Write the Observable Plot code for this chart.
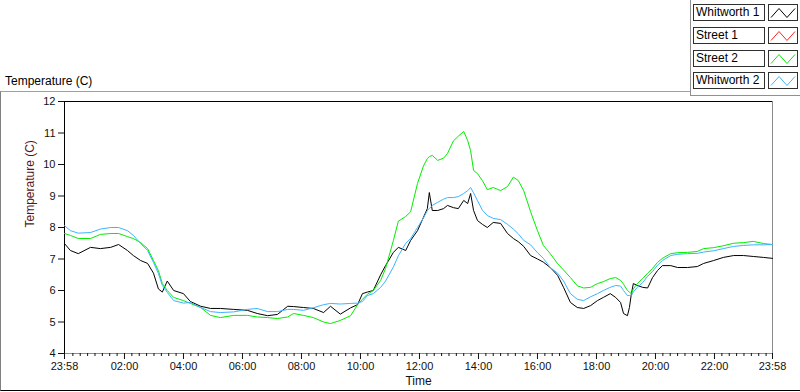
<!DOCTYPE html>
<html>
<head>
<meta charset="utf-8">
<script src="https://cdn.jsdelivr.net/npm/d3@7"></script>
<script src="https://cdn.jsdelivr.net/npm/@observablehq/plot@0.6"></script>
<style>
  html, body { margin: 0; padding: 0; background: #fff; }
  #wrap { position: relative; width: 800px; height: 392px; overflow: hidden; font-family: "Liberation Sans", Arial, sans-serif; }
  #title { position: absolute; left: 5px; top: 74px; font-size: 12px; color: #000; }
  #frame { position: absolute; left: 0; top: 91px; width: 800px; height: 300px; box-sizing: border-box;
           border-top: 1px solid #a0a0a0; border-left: 1px solid #808080; border-bottom: 1px solid #000; pointer-events: none; z-index: 3; }
  #chart { position: absolute; left: 0; top: 93px; z-index: 2; }
  #legend { position: absolute; left: 690px; top: 0; width: 110px; height: 96px; box-sizing: border-box; background: #fff;
            border-left: 1px solid #909090; border-bottom: 1px solid #909090; z-index: 4; }
  .lname { position: absolute; left: 2px; width: 72px; height: 17px; box-sizing: border-box; border: 1px solid #303030;
           font-size: 12px; line-height: 15px; padding-left: 2px; color: #000; white-space: nowrap; }
  .licon { position: absolute; left: 77px; width: 30px; height: 17px; box-sizing: border-box; border: 1px solid #303030; }
  .licon svg { display: block; }
</style>
</head>
<body>
<div id="wrap">
  <div id="title">Temperature (C)</div>
  <div id="legend"></div>
  <div id="chart"></div>
  <div id="frame"></div>
</div>
<script>
// ---- data ----
const seriesNames = ["Whitworth 1", "Street 1", "Street 2", "Whitworth 2"];
const seriesColors = ["#000000", "#ff2020", "#00ee00", "#3cb4ff"];

const times = [
  "23:58","00:10","00:26","00:51","01:11","01:32","01:48","02:06","02:18","02:33",
  "02:47","02:59","03:09","03:17","03:27","03:40","04:00","04:14","04:35","04:55",
  "05:15","05:42","06:10","06:30","06:51","07:11","07:32","07:44","08:04","08:24",
  "08:45","08:59","09:19","09:40","09:54","10:04","10:14","10:26","10:41","10:51",
  "11:07","11:17","11:32","11:42","11:56","12:08","12:16","12:20","12:26","12:37",
  "12:49","12:57","13:09","13:19","13:30","13:38","13:44","13:50","13:58","14:08",
  "14:18","14:30","14:45","14:59","15:11","15:21","15:32","15:46","16:00","16:12",
  "16:26","16:41","16:53","17:07","17:21","17:34","17:48","18:02","18:14","18:28",
  "18:39","18:49","18:55","19:03","19:07","19:11","19:15","19:23","19:34","19:44",
  "19:54","20:04","20:14","20:31","20:45","21:05","21:25","21:38","21:58","22:18",
  "22:39","22:59","23:19","23:40","23:58"
];

const whitworth1 = [
  7.49,7.27,7.17,7.37,7.33,7.37,7.46,7.27,7.11,6.95,
  6.86,6.55,6.05,5.95,6.30,6.00,5.90,5.65,5.50,5.43,
  5.43,5.40,5.37,5.27,5.20,5.24,5.50,5.49,5.46,5.43,
  5.30,5.50,5.25,5.45,5.55,5.90,5.95,6.00,6.50,6.79,
  7.21,7.37,7.27,7.59,7.90,8.32,8.60,9.11,8.54,8.54,
  8.60,8.70,8.63,8.60,8.86,8.76,9.08,8.54,8.22,8.10,
  8.00,8.16,8.13,7.81,7.65,7.55,7.40,7.11,7.00,6.90,
  6.73,6.48,6.10,5.62,5.46,5.43,5.52,5.68,5.78,5.90,
  5.78,5.62,5.27,5.20,5.46,5.90,6.22,6.16,6.10,6.08,
  6.41,6.63,6.79,6.79,6.73,6.73,6.76,6.86,6.95,7.05,
  7.11,7.11,7.08,7.05,7.02
];

const street1 = []; // listed in the legend, no visible trace

const street2 = [
  7.81,7.75,7.65,7.65,7.78,7.81,7.81,7.71,7.65,7.52,
  7.33,6.95,6.63,6.22,6.00,5.78,5.68,5.59,5.46,5.21,
  5.14,5.21,5.21,5.16,5.14,5.11,5.16,5.27,5.21,5.14,
  5.00,4.95,5.05,5.20,5.55,5.72,5.88,6.00,6.32,6.70,
  7.59,8.20,8.35,8.50,9.40,9.95,10.19,10.25,10.29,10.13,
  10.20,10.35,10.75,10.90,11.05,10.76,10.44,9.81,9.71,9.49,
  9.20,9.27,9.17,9.30,9.60,9.49,9.17,8.50,7.90,7.43,
  7.17,6.85,6.65,6.41,6.15,6.08,6.10,6.22,6.28,6.38,
  6.41,6.32,6.20,6.00,5.95,5.90,6.05,6.22,6.38,6.55,
  6.70,6.89,7.02,7.17,7.20,7.21,7.24,7.33,7.36,7.42,
  7.50,7.52,7.56,7.49,7.46
];

const whitworth2 = [
  8.06,7.90,7.82,7.84,7.95,8.00,8.00,7.90,7.75,7.49,
  7.27,6.89,6.54,6.16,5.94,5.68,5.60,5.62,5.46,5.33,
  5.30,5.32,5.40,5.43,5.33,5.33,5.40,5.40,5.37,5.45,
  5.55,5.59,5.57,5.59,5.60,5.65,5.84,5.90,6.10,6.30,
  6.75,7.10,7.50,7.65,8.00,8.30,8.54,8.60,8.70,8.80,
  8.90,8.95,8.95,8.98,9.08,9.17,9.27,9.10,8.85,8.55,
  8.38,8.29,8.25,8.10,7.95,7.80,7.59,7.45,7.20,7.02,
  6.73,6.55,6.30,5.90,5.72,5.68,5.80,5.90,6.00,6.10,
  6.16,6.14,6.00,5.84,5.84,5.84,5.95,6.10,6.25,6.45,
  6.60,6.80,6.95,7.11,7.15,7.17,7.18,7.22,7.26,7.33,
  7.40,7.43,7.45,7.45,7.46
];

const xTickLabels = ["23:58","02:00","04:00","06:00","08:00","10:00","12:00","14:00","16:00","18:00","20:00","22:00","23:58"];
const yTicks = [4, 5, 6, 7, 8, 9, 10, 11, 12];

// ---- helpers ----
function toDate(hhmm, dayOne) {
  const [h, m] = hhmm.split(":").map(Number);
  return new Date(Date.UTC(2000, 0, dayOne ? 1 : 2, h, m));
}
const tDates = times.map((s, i) => toDate(s, i === 0));
const xStart = tDates[0], xEnd = tDates[tDates.length - 1];
const majorTicks = xTickLabels.map((s, i) => toDate(s, i === 0));
const minorTicks = d3.utcMinute.every(15).range(new Date(Date.UTC(2000,0,2,0,0)), xEnd)
  .filter(d => !(d.getUTCMinutes() === 0 && d.getUTCHours() % 2 === 0));

const allSeries = [whitworth1, street1, street2, whitworth2];
const data = allSeries.map((vals, si) => vals.map((v, i) => ({t: tDates[i], v, s: seriesNames[si]})));

// ---- legend ----
const legend = document.getElementById("legend");
const rowTops = [4, 27, 50, 72];
seriesNames.forEach((name, i) => {
  const n = document.createElement("div");
  n.className = "lname"; n.style.top = rowTops[i] + "px"; n.textContent = name;
  legend.appendChild(n);
  const ic = document.createElement("div");
  ic.className = "licon"; ic.style.top = rowTops[i] + "px";
  ic.innerHTML = `<svg width="28" height="15"><polyline points="2,12.5 10,3.5 18,12.5 26,3.5" fill="none" stroke="${seriesColors[i]}" stroke-width="1"/></svg>`;
  legend.appendChild(ic);
});

// ---- chart ----
const fmt = d3.utcFormat("%H:%M");
const chart = Plot.plot({
  width: 800,
  height: 299,
  marginTop: 8,
  marginBottom: 39,
  marginLeft: 64,
  marginRight: 28,
  style: {background: "transparent", fontFamily: "Liberation Sans, Arial, sans-serif", fontSize: "11px", color: "#111"},
  x: {type: "utc", domain: [xStart, xEnd]},
  y: {domain: [4, 12]},
  marks: [
    Plot.ruleY([4], {stroke: "#8c8c8c"}),
    Plot.ruleX([xEnd], {stroke: "#8c8c8c"}),
    Plot.ruleY([12], {stroke: "#000"}),
    Plot.ruleX([xStart], {stroke: "#000"}),
    ...data.map((d, i) => Plot.line(d, {x: "t", y: "v", stroke: seriesColors[i], strokeWidth: 1})),
    Plot.axisX(minorTicks, {tickSize: 3, tickFormat: () => "", label: null}),
    Plot.axisX(majorTicks, {tickSize: 6, tickPadding: 3, tickFormat: fmt, label: null}),
    Plot.axisY(yTicks, {tickSize: 6, tickPadding: 3, label: null}),
    Plot.text(["Temperature (C)"], {frameAnchor: "left", rotate: -90, dx: -34, fill: "#5a1414", fontSize: 12}),
    Plot.text(["Time"], {frameAnchor: "bottom", dy: 31, fill: "#111", fontSize: 12})
  ]
});
document.getElementById("chart").appendChild(chart);
</script>
</body>
</html>
